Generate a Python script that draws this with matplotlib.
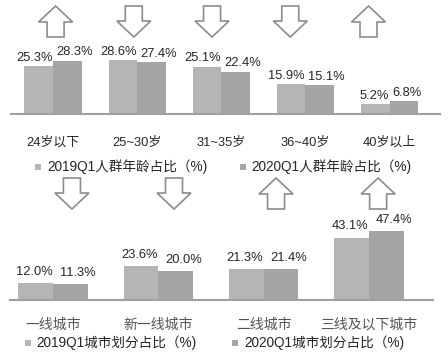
import matplotlib
matplotlib.use("Agg")
import matplotlib.pyplot as plt
import matplotlib.transforms as mtransforms
from matplotlib.patches import Polygon, Rectangle

# ---------------- data ----------------
age_categories = ["24岁以下", "25~30岁", "31~35岁", "36~40岁", "40岁以上"]
age_2019 = [25.3, 28.6, 25.1, 15.9, 5.2]
age_2020 = [28.3, 27.4, 22.4, 15.1, 6.8]
age_legend = ["2019Q1人群年龄占比（%)", "2020Q1人群年龄占比（%)"]

city_categories = ["一线城市", "新一线城市", "二线城市", "三线及以下城市"]
city_2019 = [12.0, 23.6, 21.3, 43.1]
city_2020 = [11.3, 20.0, 21.4, 47.4]
city_legend = ["2019Q1城市划分占比（%)", "2020Q1城市划分占比（%)"]

# ---------------- style ----------------
C2019 = "#b5b5b5"
C2020 = "#a5a5a5"
AXIS_C = "#a0a0a0"
TXT = "#262626"
FAM = ["Liberation Sans", "Noto Sans CJK SC", "DejaVu Sans"]
CJK = ["Noto Sans CJK SC", "DejaVu Sans"]

W, H = 448, 354
fig = plt.figure(figsize=(W / 100, H / 100), dpi=100)


def px_axes(left, right, top, baseline):
    return fig.add_axes([left / W, (H - baseline) / H, (right - left) / W, (baseline - top) / H])


def draw_arrow(ax, xc, ybot, up):
    # arrow shape in pixel offsets relative to bottom-centre anchor
    hw_s, hw_h, sh, hh = 8.5, 17, 15, 16
    if up:
        pts = [(-hw_s, 0), (hw_s, 0), (hw_s, sh), (hw_h, sh), (0, sh + hh),
               (-hw_h, sh), (-hw_s, sh)]
    else:
        pts = [(-hw_s, sh + hh), (hw_s, sh + hh), (hw_s, hh), (hw_h, hh), (0, 0),
               (-hw_h, hh), (-hw_s, hh)]
    tr = mtransforms.Affine2D() + mtransforms.ScaledTranslation(xc, ybot, ax.transData)
    ax.add_patch(Polygon(pts, closed=True, facecolor="white", edgecolor="#8c8c8c",
                         linewidth=1.2, transform=tr, clip_on=False))


def style_axes(ax):
    for s in ["top", "right", "left"]:
        ax.spines[s].set_visible(False)
    ax.spines["bottom"].set_color(AXIS_C)
    ax.spines["bottom"].set_linewidth(1.5)
    ax.set_xticks([])
    ax.set_yticks([])
    ax.patch.set_alpha(0)


def legend_row(y, items):
    for (sx, tx, label, color) in items:
        fig.patches.append(Rectangle(((sx) / W, (H - y - 3) / H), 6 / W, 6 / H,
                                     transform=fig.transFigure, facecolor=color,
                                     edgecolor="none"))
        fig.text(tx / W, (H - y) / H, label, fontsize=9.8, family=FAM, color=TXT,
                 va="center", ha="left")


# ---------------- top panel ----------------
ax1 = px_axes(11, 440, 0, 114)
style_axes(ax1)
ax1.set_xlim(-0.5, 4.6)
ax1.set_ylim(0, 114 / 1.89)
bw1 = 0.34
x1 = list(range(len(age_categories)))
ax1.bar([i - bw1 / 2 for i in x1], age_2019, width=bw1, color=C2019)
ax1.bar([i + bw1 / 2 for i in x1], age_2020, width=bw1, color=C2020)
for i, (a, b) in enumerate(zip(age_2019, age_2020)):
    ax1.annotate(f"{a:.1f}%", (i, a), xytext=(-0.5, 3.8), textcoords="offset points",
                 ha="right", va="baseline", fontsize=9.3, family=FAM, color=TXT)
    ax1.annotate(f"{b:.1f}%", (i, b), xytext=(2.0, 3.8), textcoords="offset points",
                 ha="left", va="baseline", fontsize=9.3, family=FAM, color=TXT)
    ax1.annotate(age_categories[i], (i, 0), xytext=(0, -20.5), textcoords="offset points",
                 ha="center", va="center", fontsize=9.3, family=FAM, color=TXT,
                 annotation_clip=False)
    draw_arrow(ax1, i + 0.03 - 0.07 * i, (114 - 37) / 1.89, b > a)

legend_row(167, [(35, 47, age_legend[0], C2019), (240, 251, age_legend[1], C2020)])

# ---------------- bottom panel ----------------
ax2 = px_axes(10, 433, 175, 300)
style_axes(ax2)
ax2.set_xlim(-0.408, 3.608)
ax2.set_ylim(0, 125 / 1.45)
bw2 = 0.33
x2 = list(range(len(city_categories)))
ax2.bar([i - bw2 / 2 for i in x2], city_2019, width=bw2, color=C2019)
ax2.bar([i + bw2 / 2 for i in x2], city_2020, width=bw2, color=C2020)
for i, (a, b) in enumerate(zip(city_2019, city_2020)):
    ax2.annotate(f"{a:.1f}%", (i, a), xytext=(-0.5, 5.8), textcoords="offset points",
                 ha="right", va="baseline", fontsize=9.3, family=FAM, color=TXT)
    ax2.annotate(f"{b:.1f}%", (i, b), xytext=(5.0, 5.8), textcoords="offset points",
                 ha="left", va="baseline", fontsize=9.3, family=FAM, color=TXT)
    ax2.annotate(city_categories[i], (i, 0), xytext=(0, -18), textcoords="offset points",
                 ha="center", va="center", fontsize=10, family=CJK, color="#555555",
                 annotation_clip=False)
    draw_arrow(ax2, i + 0.18 - 0.031 * i, (300 - 209) / 1.45, b > a)

legend_row(343, [(25, 36, city_legend[0], C2019), (232, 244, city_legend[1], C2020)])

fig.savefig("out.png", dpi=100, facecolor="white")
